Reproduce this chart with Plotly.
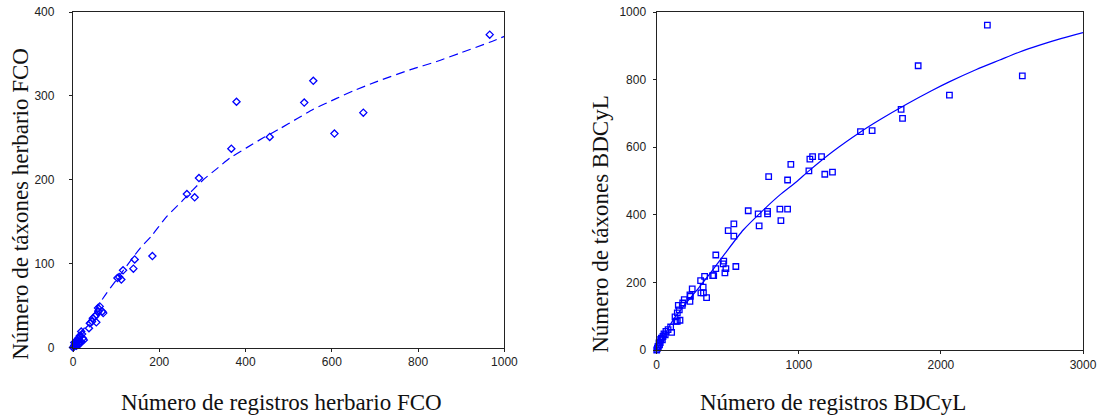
import plotly.graph_objects as go

# ---- Left panel: herbario FCO ----
fco_registros = [966, 379, 536, 557, 673, 606, 456, 367, 292, 264, 282, 184, 143, 140,
                 116, 103, 112, 107, 62, 68, 59, 54, 46, 54, 39, 37, 44, 70, 58, 51,
                 19, 16, 12, 8, 4, 0, 19, 15, 8, 23, 12, 17, 21, 10, 6, 2, 3, 5,
                 25, 14, 9, 3]
fco_taxones = [373, 293, 292, 318, 280, 255, 251, 237, 202, 183, 179, 109, 105, 94,
               92, 83, 81, 84, 49, 43, 43, 39, 35, 30, 29, 23, 31, 41, 47, 37,
               19, 14, 11, 7, 3, 0, 7, 4, 2, 11, 5, 13, 16, 8, 5, 1, 2, 4,
               9, 9, 4, 6]
fco_ajuste_x = [0, 20, 50, 70, 101, 155, 182, 217, 252, 278, 302, 333, 364, 402, 441,
                480, 520, 557, 611, 650, 704, 781, 843, 897, 966, 1000]
fco_ajuste_y = [0, 18, 43, 59, 81, 118, 133, 156, 174, 188, 200, 213, 226, 238, 250,
                261, 273, 284, 297, 306, 317, 331, 341, 351, 364, 371]

# ---- Right panel: BDCyL ----
bdcyl_registros = [2327, 1840, 2573, 2060, 1720, 1730, 1434, 1516, 1160, 1097, 1078, 1071,
                   1183, 1237, 944, 921, 788, 644, 714, 780, 780, 867, 921, 874, 721, 543,
                   503, 543, 416, 472, 468, 416, 487, 480, 557, 394, 401, 337, 309, 327,
                   311, 329, 351, 250, 234, 237, 234, 194, 183, 180, 152, 159, 145, 129,
                   136, 164, 145, 98, 65, 105, 51, 44, 28, 16, 12, 0, 33,
                   5, 8, 20, 25, 40, 60, 80]
bdcyl_taxones = [961, 841, 811, 754, 712, 685, 646, 649, 572, 572, 565, 530,
                 520, 526, 549, 503, 513, 412, 403, 410, 403, 417, 417, 383, 367, 373,
                 353, 337, 281, 263, 255, 241, 241, 228, 247, 220, 220, 218, 205, 186,
                 169, 169, 155, 181, 163, 159, 144, 149, 139, 132, 132, 119, 110, 98,
                 85, 88, 85, 68, 55, 52, 48, 40, 31, 21, 11, 0, 35,
                 5, 10, 15, 22, 30, 45, 60]
bdcyl_ajuste_x = [0, 25, 60, 117, 200, 304, 400, 480, 609, 750, 867, 984, 1071, 1242,
                  1434, 1570, 1758, 1934, 2062, 2250, 2414, 2550, 2695, 2850, 3000]
bdcyl_ajuste_y = [0, 22, 48, 90, 135, 188, 240, 285, 355, 414, 459, 498, 530, 588,
                  645, 681, 727, 767, 794, 830, 858, 881, 902, 922, 939]

# tick values
fco_xticks = [0, 200, 400, 600, 800, 1000]
fco_yticks = [0, 100, 200, 300, 400]
bdcyl_xticks = [0, 1000, 2000, 3000]
bdcyl_yticks = [0, 200, 400, 600, 800, 1000]

# titles
fco_xtitle = "Número de registros herbario FCO"
fco_ytitle = "Número de táxones herbario FCO"
bdcyl_xtitle = "Número de registros BDCyL"
bdcyl_ytitle = "Número de táxones BDCyL"

BLUE = "#0000FF"
TITLE_FONT = dict(family="Liberation Serif, serif", size=23, color="#111111")
TICK_FONT = dict(family="Liberation Sans, Arial, sans-serif", size=12, color="#222222")

fig = go.Figure()

fig.add_trace(go.Scatter(x=fco_registros, y=fco_taxones, mode="markers",
                         marker=dict(symbol="diamond-open", size=5.5, color=BLUE,
                                     line=dict(width=1.3, color=BLUE)),
                         cliponaxis=False, xaxis="x", yaxis="y", showlegend=False))
fig.add_trace(go.Scatter(x=fco_ajuste_x, y=fco_ajuste_y, mode="lines",
                         line=dict(color=BLUE, width=1.2, dash="9px,5px",
                                   shape="spline", smoothing=0.6),
                         xaxis="x", yaxis="y", showlegend=False))

fig.add_trace(go.Scatter(x=bdcyl_registros, y=bdcyl_taxones, mode="markers",
                         marker=dict(symbol="square-open", size=5.5, color=BLUE,
                                     line=dict(width=1.3, color=BLUE)),
                         cliponaxis=False, xaxis="x2", yaxis="y2", showlegend=False))
fig.add_trace(go.Scatter(x=bdcyl_ajuste_x, y=bdcyl_ajuste_y, mode="lines",
                         line=dict(color=BLUE, width=1.2, shape="spline", smoothing=0.6),
                         xaxis="x2", yaxis="y2", showlegend=False))

axis_common = dict(showgrid=False, zeroline=False, showline=True, mirror=True,
                   linecolor="#222222", linewidth=1.3, ticks="outside", ticklen=3,
                   tickwidth=1.2, tickcolor="#222222", tickfont=TICK_FONT,
                   automargin=False)

W, H = 1102, 418
ML, MR, MT, MB = 73, 19, 12, 67.6
PW = W - ML - MR
PH = H - MT - MB


def px_x(px):
    return (px - ML) / PW


def px_y(py):
    return (H - MB - py) / PH


fig.update_layout(
    width=W, height=H,
    margin=dict(l=ML, r=MR, t=MT, b=MB),
    paper_bgcolor="white", plot_bgcolor="white",
    xaxis=dict(domain=[0, px_x(504.4)], range=[0, 1000], tickvals=fco_xticks,
               anchor="y", **axis_common),
    yaxis=dict(domain=[px_y(347.9), 1], range=[0, 400], tickvals=fco_yticks,
               anchor="x", ticklabelstandoff=12, **axis_common),
    xaxis2=dict(domain=[px_x(656.7), 1], range=[0, 3000], tickvals=bdcyl_xticks,
                anchor="y2", **axis_common),
    yaxis2=dict(domain=[0, 1], range=[0, 1000], tickvals=bdcyl_yticks,
                anchor="x2", ticklabelstandoff=4, **axis_common),
    annotations=[
        dict(text=fco_xtitle, xref="paper", yref="paper", x=px_x(281), y=px_y(403),
             xanchor="center", yanchor="middle", showarrow=False, font=TITLE_FONT),
        dict(text=bdcyl_xtitle, xref="paper", yref="paper", x=px_x(832.5), y=px_y(403),
             xanchor="center", yanchor="middle", showarrow=False, font=TITLE_FONT),
        dict(text=fco_ytitle, xref="paper", yref="paper", x=px_x(21), y=px_y(204),
             xanchor="center", yanchor="middle", textangle=-90, showarrow=False,
             font=TITLE_FONT),
        dict(text=bdcyl_ytitle, xref="paper", yref="paper", x=px_x(601), y=px_y(225),
             xanchor="center", yanchor="middle", textangle=-90, showarrow=False,
             font=TITLE_FONT),
    ],
)

fig.write_html("out.html")
